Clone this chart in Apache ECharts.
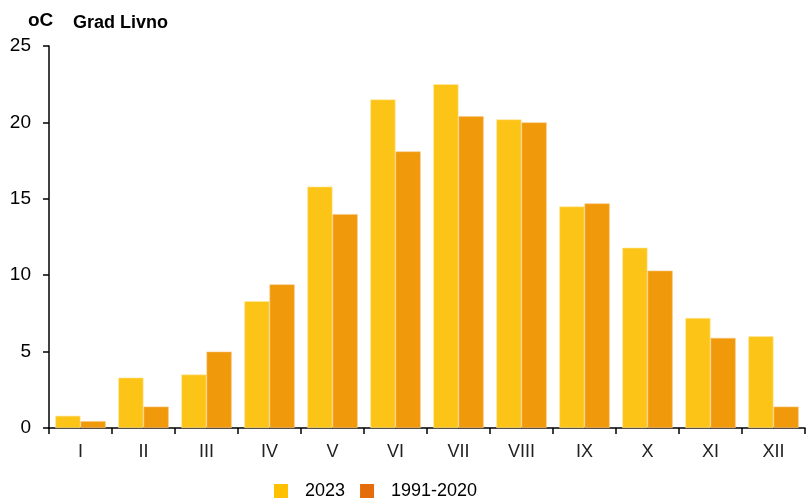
<!DOCTYPE html>
<html>
<head>
<meta charset="utf-8">
<script src="https://cdn.jsdelivr.net/npm/echarts@6/dist/echarts.min.js"></script>
<style>
	html, body { margin: 0; padding: 0; background: #fff; }
	#chart { width: 807px; height: 502px; }
</style>
</head>
<body>
<div id="chart"></div>
<script>
var months = ['I', 'II', 'III', 'IV', 'V', 'VI', 'VII', 'VIII', 'IX', 'X', 'XI', 'XII'];
var temp2023 = [0.8, 3.3, 3.5, 8.3, 15.8, 21.5, 22.5, 20.2, 14.5, 11.8, 7.2, 6.0];   //2023
var tempNorm = [0.45, 1.4, 5.0, 9.4, 14.0, 18.1, 20.4, 20.0, 14.7, 10.3, 5.9, 1.4]; //1991-2020
var yTicks = [0, 5, 10, 15, 20, 25];

var chart = echarts.init(document.getElementById('chart'));
var font = 'Liberation Sans, Arial, sans-serif';

var option = {
	animation: false,
	textStyle: { fontFamily: font },
	title: [
		{ text: 'oC', left: 23, top: 6, textStyle: { fontSize: 19, fontWeight: 'bold', color: '#000', fontFamily: font } },
		{ text: 'Grad Livno', left: 68, top: 9, textStyle: { fontSize: 18, fontWeight: 'bold', color: '#000', fontFamily: font } }
	],
	legend: {
		top: 477,
		left: 269,
		icon: 'rect',
		itemWidth: 14,
		itemHeight: 14,
		itemGap: 15,
		textStyle: { fontSize: 18, color: '#000', fontFamily: font, padding: [0, 0, 0, 12] },
		data: [
			{ name: '2023', itemStyle: { color: '#FFC000', borderWidth: 0 } },
			{ name: '1991-2020', itemStyle: { color: '#E46C0A', borderWidth: 0 } }
		]
	},
	grid: { left: 49, right: 2, top: 46, bottom: 74 },
	xAxis: {
		type: 'category',
		data: months,
		axisLine: { lineStyle: { color: '#000', width: 1.5 } },
		axisTick: { show: true, length: 6, lineStyle: { color: '#000', width: 1.5 } },
		axisLabel: { color: '#222', fontSize: 18, margin: 15 }
	},
	yAxis: {
		type: 'value',
		min: yTicks[0],
		max: yTicks[yTicks.length - 1],
		interval: 5,
		splitLine: { show: false },
		axisLine: { show: true, lineStyle: { color: '#000', width: 1.5 } },
		axisTick: { show: true, length: 6, lineStyle: { color: '#000', width: 1.5 } },
		axisLabel: { color: '#000', fontSize: 19, margin: 18 }
	},
	series: [
		{
			name: '2023',
			type: 'bar',
			data: temp2023,
			barGap: '0%',
			barCategoryGap: '20%',
			itemStyle: { color: '#FDC418', borderColor: '#FFE9A0', borderWidth: 0.6 }
		},
		{
			name: '1991-2020',
			type: 'bar',
			data: tempNorm,
			itemStyle: { color: '#F0990A', borderColor: '#F8C98A', borderWidth: 0.6 }
		}
	]
};
chart.setOption(option);
</script>
</body>
</html>
